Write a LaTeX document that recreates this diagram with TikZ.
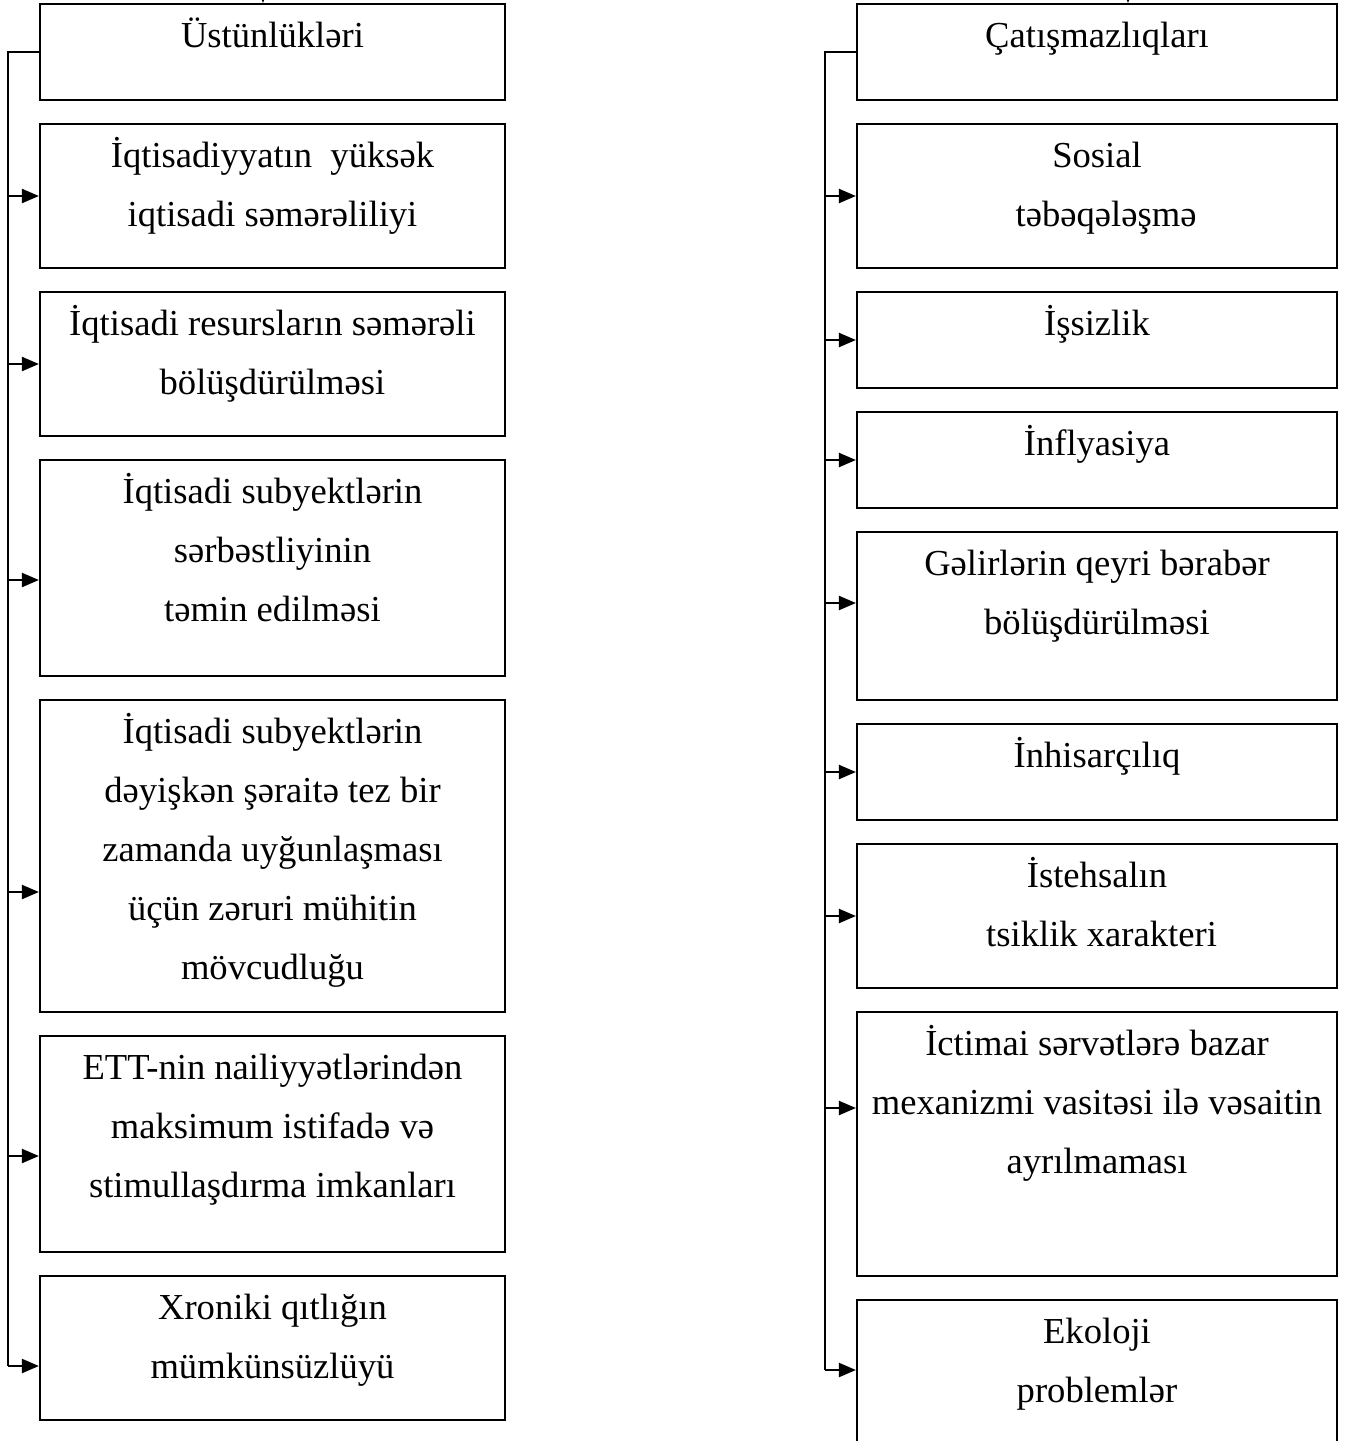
\documentclass[tikz,border=0pt]{standalone}
\usepackage{fontspec}
\setmainfont{Liberation Serif}
\usetikzlibrary{arrows.meta}
\tikzset{
  box/.style={draw, line width=1.1pt, rectangle, inner sep=0pt},
  lbox/.style={box, minimum width=232.5pt},
  rbox/.style={box, minimum width=240pt},
  txt/.style={anchor=base, align=center, inner sep=0pt, font=\fontsize{18.3}{29.5}\selectfont},
  conn/.style={line width=1.1pt},
  arr/.style={line width=1.1pt, -{Triangle[length=8.5pt,width=7pt]}}
}
\begin{document}
\begin{tikzpicture}[x=0.5pt,y=-0.5pt]
\useasboundingbox (0,0) rectangle (1348,1441);
\clip (0,0) rectangle (1348,1441);
\fill[white] (0,0) rectangle (1348,1441);
% left column
\node[lbox, minimum height=48pt]  (L1) at (272.5,52) {};
\node[lbox, minimum height=72pt]  (L2) at (272.5,196) {};
\node[lbox, minimum height=72pt]  (L3) at (272.5,364) {};
\node[lbox, minimum height=108pt] (L4) at (272.5,568) {};
\node[lbox, minimum height=156pt] (L5) at (272.5,856) {};
\node[lbox, minimum height=108pt] (L6) at (272.5,1144) {};
\node[lbox, minimum height=72pt]  (L7) at (272.5,1348) {};
% text nodes: anchor base = baseline of the last line
\node[txt] (tL1) at (272.5,47) {Üstünlükləri};
\node[txt] (tL2) at (272.5,226) {İqtisadiyyatın\ \ yüksək\\iqtisadi səmərəliliyi};
\node[txt] (tL3) at (272.5,394) {İqtisadi resursların səmərəli\\bölüşdürülməsi};
\node[txt] (tL4) at (272.5,621) {İqtisadi subyektlərin\\sərbəstliyinin\\təmin edilməsi};
\node[txt] (tL5) at (272.5,979) {İqtisadi subyektlərin\\dəyişkən şəraitə tez bir\\zamanda uyğunlaşması\\üçün zəruri mühitin\\mövcudluğu};
\node[txt] (tL6) at (272.5,1197) {ETT-nin nailiyyətlərindən\\maksimum istifadə və\\stimullaşdırma imkanları};
\node[txt] (tL7) at (272.5,1378) {Xroniki qıtlığın\\mümkünsüzlüyü};
% right column
\node[rbox, minimum height=48pt]  (R1) at (1097,52) {};
\node[rbox, minimum height=72pt]  (R2) at (1097,196) {};
\node[rbox, minimum height=48pt]  (R3) at (1097,340) {};
\node[rbox, minimum height=48pt]  (R4) at (1097,460) {};
\node[rbox, minimum height=84pt]  (R5) at (1097,616) {};
\node[rbox, minimum height=48pt]  (R6) at (1097,772) {};
\node[rbox, minimum height=72pt]  (R7) at (1097,916) {};
\node[rbox, minimum height=132pt] (R8) at (1097,1144) {};
\node[rbox, minimum height=80pt]  (R9) at (1097,1380) {};
\node[txt] (tR1) at (1097,47) {Çatışmazlıqları};
\node[txt] (tR2) at (1097,226) {Sosial\\\ \ təbəqələşmə};
\node[txt] (tR3) at (1097,335) {İşsizlik};
\node[txt] (tR4) at (1097,455) {İnflyasiya};
\node[txt] (tR5) at (1097,634) {Gəlirlərin qeyri bərabər\\bölüşdürülməsi};
\node[txt] (tR6) at (1097,767) {İnhisarçılıq};
\node[txt] (tR7) at (1097,946) {İstehsalın\\\ tsiklik xarakteri};
\node[txt] (tR8) at (1097,1173) {İctimai sərvətlərə bazar\\mexanizmi vasitəsi ilə vəsaitin\\ayrılmaması};
\node[txt] (tR9) at (1097,1402) {Ekoloji\\problemlər};
% incoming stubs at the top
\coordinate (topL) at (263,-40);
\coordinate (topR) at (1128,-40);
\draw[arr] (topL) -- (topL |- L1.north);
\draw[arr] (topR) -- (topR |- R1.north);
% left trunk
\coordinate (LT) at (8,52);
\coordinate (LB) at (8,1366);
\draw[conn] (L1.west) -- (LT) -- (LB);
\foreach \n/\y in {L2/196, L3/364, L4/580, L5/892, L6/1156, L7/1366}{
  \coordinate (a\n) at (8,\y);
  \draw[arr] (a\n) -- (a\n -| \n.west);
}
% right trunk
\coordinate (RT) at (825,52);
\coordinate (RB) at (825,1370);
\draw[conn] (R1.west) -- (RT) -- (RB);
\foreach \n/\y in {R2/196, R3/340, R4/460, R5/603, R6/772, R7/916, R8/1108, R9/1370}{
  \coordinate (a\n) at (825,\y);
  \draw[arr] (a\n) -- (a\n -| \n.west);
}
\end{tikzpicture}
\end{document}
